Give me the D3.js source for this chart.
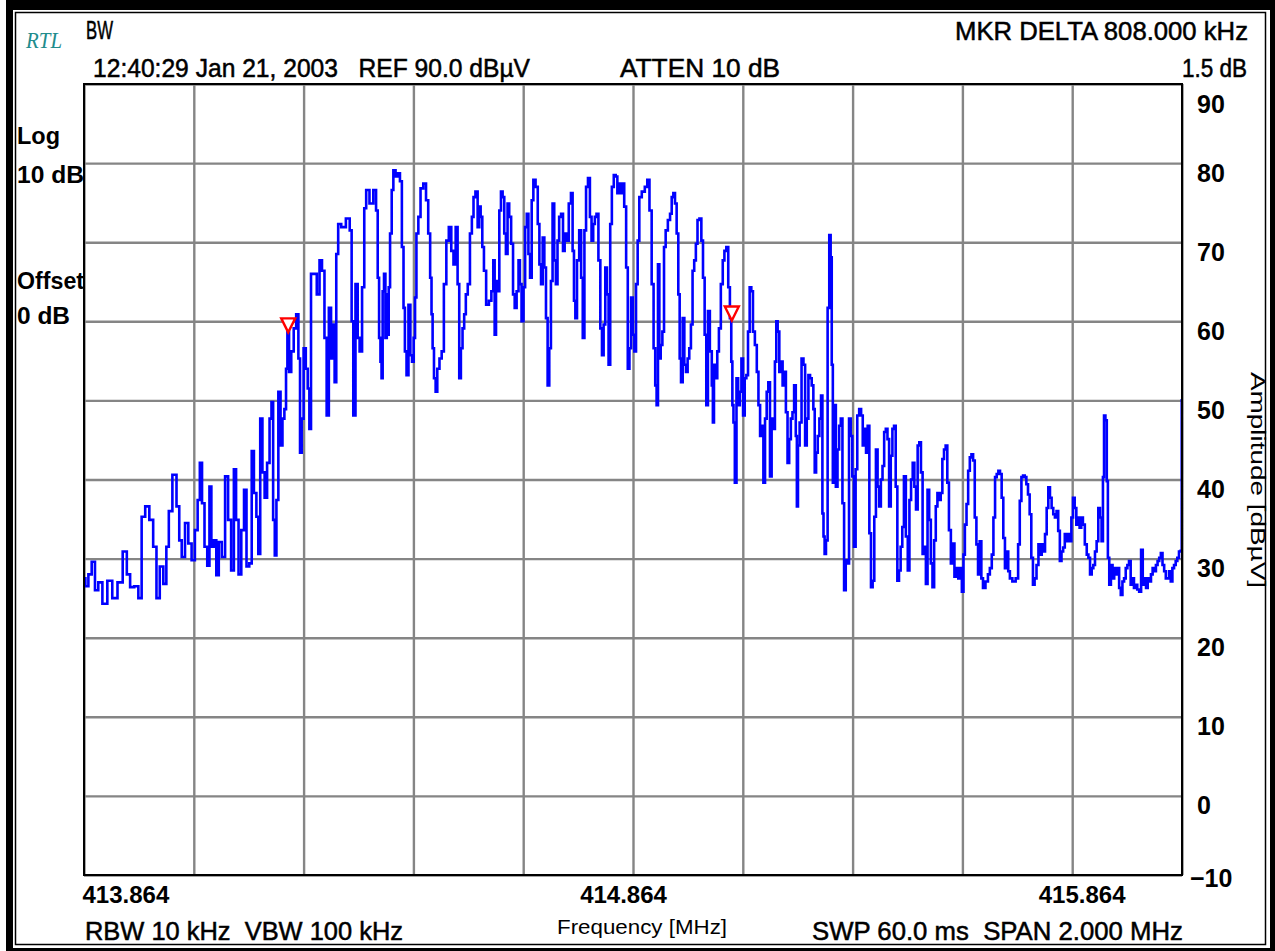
<!DOCTYPE html>
<html>
<head>
<meta charset="utf-8">
<script src="https://cdn.jsdelivr.net/npm/d3@7"></script>
<style>
  body { margin: 0; background: #fff; }
  svg { display: block; }
  text { white-space: pre; }
</style>
</head>
<body>
<svg id="chart" width="1275" height="951"></svg>
<script>
// sweep settings
var startMHz = 413.864;
var stopMHz = 415.864;
var refLevel = 90;
var bottomLevel = -10;

var ampTicks = [90, 80, 70, 60, 50, 40, 30, 20, 10, 0, -10];
var gridFreqs = [413.864, 414.064, 414.264, 414.464, 414.664, 414.864, 415.064, 415.264, 415.464, 415.664, 415.864];
var freqLabels = ["413.864", "414.864", "415.864"];

// delta markers (MHz, dBuV)
var markerFreqs = [414.236, 415.044];
var markerLevels = [58.6, 60.1];

// trace: [offset from start in kHz, level in dBuV]
var trace = [
  [0,27.5],[5,26.5],[11,28],[17,29.6],[23,26],[29,27],[38,24.3],[47,27.2],[56,25],[66,27],[75,30.9],[81,28],[87,26.4],[96,26.5],[102,25],
  [108,35.3],[115,36.6],[123,34.9],[129,31.5],[135,25],[141,29],[148,26.8],[152,31.5],[157,36],[165,40.6],[172,36.6],[175,32.3],[181,30.2],
  [187,34.5],[193,31.9],[199,29.8],[205,33.6],[209,37.4],[213,42.1],[217,37],[222,31.5],[227,29.1],[230,39.1],[234,31.5],[239,32.3],[243,27.9],
  [248,32.1],[254,30.2],[260,40.4],[265,34.9],[271,28.5],[275,41.3],[279,34.9],[284,28],[289,33.6],[294,38.7],[298,29],[304,29.4],[307,43.6],
  [312,38.3],[316,35.3],[319,30.6],[323,47.7],[327,40.9],[331,37.7],[336,42.1],[340,47.7],[343,49.8],[346,34.9],[349,30.4],[352,37.4],[356,51.1],
  [360,44.3],[363,47.7],[367,48.9],[369,54],[372,58.7],[375,53.6],[380,56.2],[384,59.1],[389,60.9],[392,55.3],[395,43.4],[398,47.7],[402,56.6],
  [406,54],[409,51.5],[412,46.4],[415,66],[421,66],[427,63.4],[431,67.7],[436,66.4],[440,57.9],[444,48.1],[448,61.7],[452,55.3],[455,59.6],
  [458,52.3],[461,68.5],[465,72.3],[472,71.9],[482,73],[486,71.5],[489,60],[492,48.1],[497,64.7],[500,57.9],[504,56.2],[509,64.3],[512,74.3],
  [516,76.6],
  [524,74.9],[530,76.6],[534,74],[536,65.5],[539,57.9],[541,54.9],[543,52.8],[545,63.8],[548,66],[550,57.9],[553,63.4],[554,58.3],[556,64.3],
  [559,71.1],[562,76.6],[565,79.1],[570,78.3],[574,78.7],[577,77.7],[581,69.4],[583,61.7],[586,56.2],[589,53.2],[593,62.1],[596,55.7],[599,54.9],
  [602,57.9],[604,63],[607,71.1],[611,73.2],[615,76.8],[621,77.4],[625,75.3],[629,71.1],[632,65.5],[634,60.9],[636,56.6],[639,52.8],[642,51.1],
  [645,54],[650,55.3],[653,56.2],[658,64.7],[662,70.2],[667,71.9],[671,68.9],[675,67.2],[679,71.9],[682,64.7],[685,52.8],[688,56.6],[691,59.1],
  [694,60.9],[697,63.4],[701,64.7],[705,71.1],[708,73.2],[711,75.7],[715,76.4],[719,71.9],[721,74.5],[724,73.2],[727,69.4],[730,66.4],[735,62.1],
  [740,62.6],[744,63.8],[747,67.7],[749,58.3],[752,65.1],[755,63.8],[758,74],[761,76.4],[764,75.7],[767,71.1],[770,68.5],[773,74.9],[776,73.2],
  [780,69.8],[783,63.4],[786,61.7],[790,63.8],[793,67.7],[795,64.7],[799,60],[802,64.3],[805,71.9],[808,73.6],[811,68.5],[814,65.5],[817,75.3],
  [820,77.9],[825,77],[828,72.3],[831,67.2],[834,64.7],[837,70.6],[840,66.8],[843,60.4],[846,51.9],[849,56.6],[852,65.1],[855,74.9],[858,67.7],
  [861,64.7],[864,70.2],[867,73.2],[871,73.6],[874,68.9],[877,71.1],[881,70.2],[885,74.9],[889,76.2],[891,68.9],[894,62.6],[896,60.4],[900,67.7],
  [904,71.5],[907,65.5],[910,57.9],[913,71.5],[916,77],[920,78.1],[923,73.2],[926,70.2],[929,72.3],[932,73.2],[935,73.6],[939,67.7],[942,59.1],
  [945,55.7],[948,59.6],[951,66.8],[954,63.4],[957,54.5],[960,72.3],[963,77],[967,78.5],[970,78.3],[973,76.2],[976,77.4],[979,76.2],[982,77.4],
  [986,74.5],[989,66.8],[992,54],[995,56.6],[998,63],[1001,58.3],[1004,56.2],[1007,64.7],[1010,70.2],[1013,75.7],[1019,76.4],[1024,77],[1028,77.9],
  [1032,74],[1036,64.7],[1039,56.6],[1042,51.9],[1044,49.4],[1047,67.2],[1049,55.3],[1052,57],[1055,58.7],
  [1058,69.4],[1061,71.5],[1066,72.8],[1069,73.6],[1072,75.7],[1075,76.2],[1078,74.9],[1081,71.1],[1084,63.4],[1086,55.3],[1089,52.3],[1092,60.4],
  [1095,54.5],[1098,53.6],[1101,55.3],[1104,56.6],[1107,59.6],[1110,66.4],[1113,67.7],[1116,69.8],[1119,72.8],[1123,73],[1126,70.2],[1129,65.5],
  [1132,58.3],[1135,49.4],[1138,61.3],[1142,56.2],[1145,51.9],[1146,47.2],[1149,54.5],[1152,52.8],[1155,56.2],[1158,59.1],[1162,64.7],[1165,67.7],
  [1168,68.9],[1172,69.4],[1175,64.3],[1178,60.4],[1180,54.9],[1182,49.4],[1184,47.2],[1187,39.6],[1190,52.8],[1193,49.4],[1196,51.1],[1199,55.3],
  [1202,48.1],[1205,52.8],[1208,53.2],[1211,58.7],[1214,64.3],[1217,63.8],[1220,58.7],[1224,57],[1227,53.6],[1230,49.4],[1233,45.5],[1236,46.8],
  [1239,39.6],[1242,47.7],[1245,51.1],[1248,52.3],[1251,40.4],[1254,47.7],[1257,46.4],[1260,54.9],[1262,60],[1265,58.7],[1268,53.6],[1271,54.9],
  [1274,51.9],[1277,53.6],[1280,48.5],[1283,42.1],[1286,45.1],[1289,47.7],[1292,48.5],[1295,51.9],[1298,45.5],[1299,36.6],[1302,44.3],[1305,47.2],
  [1309,55.3],[1312,54.5],[1315,44.3],[1318,47.7],[1321,53.2],[1324,52.8],[1327,51.9],[1330,48.9],[1332,40.9],[1335,43.4],[1338,45.5],[1341,47.7],
  [1344,50.6],[1346,35.7],[1348,32.8],[1350,30.6],[1353,32.3],[1356,61.7],[1359,70.9],[1361,68.1],[1363,54.5],[1365,39.6],[1368,49.4],[1371,39.1],
  [1374,43.8],[1377,46.8],[1380,47.7],[1383,37],[1386,26],[1389,29.8],[1392,29.4],[1395,47.7],[1398,45.5],[1401,40.4],[1404,31.5],[1407,41.3],
  [1410,48.1],[1414,48.9],[1417,48.1],[1420,44.3],[1423,46.4],[1426,43.4],[1429,46.8],[1432,33.2],[1435,26.4],[1438,27.2],[1441,35.3],[1444,43.8],
  [1447,39.1],[1450,36.6],[1453,40],[1456,41.7],[1459,46],[1462,46.4],[1465,45.1],[1468,36.6],[1471,43],[1474,46.4],[1477,46.8],[1480,39.1],
  [1483,27.2],[1486,28.5],[1489,31.5],[1492,34],[1495,40.4],[1499,32.8],[1502,28.5],[1505,37.4],[1508,40],[1511,42.1],[1514,39.1],[1517,36.2],
  [1520,44.3],[1523,44.7],[1526,40.9],[1529,30.6],[1532,31.5],[1535,26.8],[1538,38.7],[1541,34.9],[1544,29.4],[1547,26.4],[1550,32.3],[1553,36.6],
  [1556,38.3],[1559,37.4],[1562,38.3],[1565,42.6],[1568,43.8],[1571,44.3],[1574,39.6],[1577,33.6],[1581,29.4],[1584,31.9],[1587,27.7],
  [1591,28.8],[1594,27.5],[1597,28.8],[1601,25.8],[1603,30.5],[1606,34.3],[1609,36.9],[1612,41.1],[1615,42.8],[1618,43.2],[1621,42.4],[1624,35.2],
  [1627,31.8],[1630,28],[1633,32.2],[1636,27.5],[1639,26.3],[1645,27.1],[1648,28],[1652,28.8],[1655,30.5],[1658,35.2],[1661,40.3],[1664,40.7],
  [1667,41.1],[1670,40.7],[1673,37.7],[1676,32.6],[1679,28.8],[1682,30.9],[1685,28.4],[1688,27.5],[1694,27.1],[1700,27.5],[1703,31.8],[1706,37.3],
  [1709,40.3],[1712,40.5],[1715,40.3],[1718,39.4],[1721,38.1],[1724,35.6],[1727,30.1],[1730,26.7],[1733,27.5],[1737,29.2],[1740,31.8],[1743,30.5],
  [1746,31.8],[1749,30.9],[1752,33.1],[1755,36.4],[1758,39],[1761,37.7],[1764,36.4],[1767,35.6],[1770,35.2],[1773,36],[1776,33.5],[1779,29.7],
  [1782,30.9],[1785,31.4],[1788,33.1],[1791,32.2],[1794,33.1],[1797,32.2],[1800,35.2],[1803,37.7],[1806,36.4],[1809,34.3],[1812,35.2],[1815,33.9],
  [1818,35.2],[1821,34.3],[1825,31.8],[1828,30.5],[1831,30.1],[1834,28],[1837,28.8],[1840,29.2],[1843,30.9],[1846,32.2],[1849,36.4],[1852,35.2],
  [1855,32.2],[1857,40.3],[1859,48.1],[1862,47.5],[1864,39.8],[1866,30.1],[1869,26.7],[1872,29.2],[1875,27.5],[1878,28.8],[1881,28],[1884,28.8],
  [1887,26.3],[1890,25.4],[1893,27.1],[1896,27.5],[1899,28.8],[1902,29.2],[1905,29.7],[1908,26.7],[1911,27.5],[1914,26.3],[1917,26.7],[1920,26.1],
  [1924,25.8],[1927,31.1],[1930,26.7],[1933,27.5],[1936,26.3],[1939,27.5],[1942,27.1],[1945,28],[1948,28.8],[1951,28.4],[1954,29.2],[1957,29.7],
  [1960,30.1],[1963,30.7],[1966,29.2],[1969,28.4],[1972,27.5],[1975,27.5],[1978,28.4],[1981,27.1],[1984,28.8],[1987,29.2],[1990,29.7],[1993,30.1],
  [1996,30.9],[1999,31],[2000,50]
];

var svg = d3.select("#chart");
var W = 1275, H = 951;
var plot = { left: 84, right: 1182, top: 84, bottom: 875 };

var x = d3.scaleLinear().domain([startMHz, stopMHz]).range([plot.left, plot.right]);
var y = d3.scaleLinear().domain([bottomLevel, refLevel]).range([plot.bottom, plot.top]);

// frame: thick black band plus thin inner rule
svg.append("rect").attr("width", W).attr("height", H).attr("fill", "#fff");
svg.append("rect").attr("x", 6).attr("y", 0).attr("width", W - 6).attr("height", H).attr("fill", "#000");
svg.append("rect").attr("x", 13).attr("y", 10).attr("width", 1257).attr("height", 938).attr("fill", "#fff");
svg.append("rect").attr("x", 15.5).attr("y", 12.5).attr("width", 1250).attr("height", 932)
  .attr("fill", "none").attr("stroke", "#000").attr("stroke-width", 1.5);

// grid
var grid = svg.append("g");
grid.append("g")
  .attr("transform", "translate(0," + plot.bottom + ")")
  .call(d3.axisBottom(x).tickValues(gridFreqs).tickSize(-(plot.bottom - plot.top)).tickFormat(""));
grid.append("g")
  .attr("transform", "translate(" + plot.left + ",0)")
  .call(d3.axisLeft(y).tickValues(ampTicks).tickSize(-(plot.right - plot.left)).tickFormat(""));
grid.selectAll(".domain").remove();
grid.selectAll(".tick line").attr("stroke", "#858585").attr("stroke-width", 2.4);

// trace
var line = d3.line()
  .x(function (d) { return x(startMHz + d[0] / 1000); })
  .y(function (d) { return y(d[1]); })
  .curve(d3.curveStep);

svg.append("path")
  .datum(trace)
  .attr("d", line)
  .attr("fill", "none")
  .attr("stroke", "#0000ff")
  .attr("stroke-width", 2.6);

// plot border
svg.append("rect")
  .attr("x", plot.left).attr("y", plot.top)
  .attr("width", plot.right - plot.left).attr("height", plot.bottom - plot.top)
  .attr("fill", "none").attr("stroke", "#000").attr("stroke-width", 2);

// markers (inverted triangles, tip on trace)
svg.append("g").selectAll("path")
  .data(markerFreqs)
  .enter()
  .append("path")
  .attr("d", function (f, i) {
    var px = x(f), py = y(markerLevels[i]);
    return "M" + px + "," + py + "L" + (px - 7) + "," + (py - 14) + "L" + (px + 7) + "," + (py - 14) + "Z";
  })
  .attr("fill", "#fff")
  .attr("stroke", "#ff0000")
  .attr("stroke-width", 2.4);

// amplitude labels on the right
var ampAxis = svg.append("g")
  .attr("transform", "translate(" + plot.right + ",0)")
  .call(d3.axisRight(y).tickValues(ampTicks).tickSize(0).tickPadding(15).tickFormat(d3.format("d")));
ampAxis.select(".domain").remove();
ampAxis.selectAll("text")
  .attr("dy", function (d) { return d === 90 ? "1.15em" : d === -10 ? "0.45em" : "0.72em"; })
  .attr("x", function (d) { return d === -10 ? 8 : 15; })
  .style("font-family", "Liberation Sans, Arial, sans-serif")
  .style("font-weight", "bold")
  .style("font-size", "25px")
  .attr("fill", "#000");

// frequency labels
var freqAxis = svg.append("g")
  .attr("transform", "translate(0," + plot.bottom + ")")
  .call(d3.axisBottom(x).tickValues(freqLabels.map(Number)).tickSize(0).tickPadding(6).tickFormat(d3.format(".3f")));
freqAxis.select(".domain").remove();
freqAxis.selectAll("text")
  .attr("text-anchor", function (d, i) { return i === 0 ? "start" : i === 1 ? "middle" : "end"; })
  .attr("x", function (d, i) { return i === 0 ? -2 : i === 1 ? -10 : -57; })
  .attr("dy", "0.9em")
  .style("font-family", "Liberation Sans, Arial, sans-serif")
  .style("font-weight", "bold")
  .style("font-size", "24px")
  .attr("fill", "#000");

function label(tx, ty, str, size, opts) {
  opts = opts || {};
  var t = svg.append("text")
    .attr("x", tx).attr("y", ty)
    .attr("text-anchor", opts.anchor || "start")
    .style("font-family", opts.family || "Liberation Sans, Arial, sans-serif")
    .style("font-size", size + "px")
    .style("font-weight", opts.weight || "normal")
    .style("font-style", opts.style || "normal")
    .attr("fill", opts.fill || "#000")
    .text(str);
  if (opts.len) t.attr("textLength", opts.len).attr("lengthAdjust", "spacingAndGlyphs");
  if (opts.heavy) t.attr("stroke", opts.fill || "#000").attr("stroke-width", 0.5);
  if (opts.transform) t.attr("transform", opts.transform);
  return t;
}

// header
label(26, 48, "RTL", 23, { family: "Liberation Serif, serif", style: "italic", fill: "#218c8c", len: 36 });
label(86, 39, "BW", 25, { len: 27, heavy: true });
label(93, 77, "12:40:29 Jan 21, 2003   REF 90.0 dB\u00b5V", 25, { len: 437, heavy: true });
label(620, 77, "ATTEN 10 dB", 25, { len: 160, heavy: true });
label(955, 40, "MKR DELTA 808.000 kHz", 25, { len: 293, heavy: true });
label(1182, 77, "1.5 dB", 25, { len: 65, heavy: true });

// left side info
label(17, 144, "Log", 23, { weight: "bold", len: 43 });
label(17, 183, "10 dB", 23, { weight: "bold", len: 67 });
label(17, 289, "Offset", 23, { weight: "bold", len: 67 });
label(17, 324, "0 dB", 23, { weight: "bold", len: 53 });

// footer
label(85, 940, "RBW 10 kHz  VBW 100 kHz", 25, { len: 318, heavy: true });
label(557, 934, "Frequency [MHz]", 20, { len: 170 });
label(812, 940, "SWP 60.0 ms  SPAN 2.000 MHz", 25, { len: 371, heavy: true });

// axis title (rotated, reads downward)
label(0, 0, "Amplitude [dB\u00b5V]", 20, { anchor: "middle", len: 216, transform: "translate(1251,480) rotate(90)" });
</script>
</body>
</html>
